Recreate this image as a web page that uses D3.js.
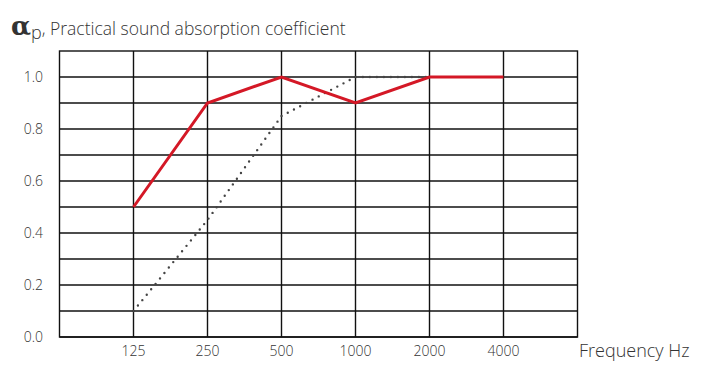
<!DOCTYPE html>
<html>
<head>
<meta charset="utf-8">
<script src="https://cdn.jsdelivr.net/npm/d3@7"></script>
<style>
  body { margin: 0; background: #fff; }
  svg text { font-family: "Open Sans", "Noto Sans", sans-serif; font-weight: 300; fill: #333; }
</style>
</head>
<body>
<svg id="chart" width="705" height="375"></svg>
<script>
const frequencies = ["125", "250", "500", "1000", "2000", "4000"];
const yTicks = [0, 0.2, 0.4, 0.6, 0.8, 1.0];
const solidValues = [0.5, 0.9, 1.0, 0.9, 1.0, 1.0];
const dottedValues = [0.1, 0.45, 0.85, 1.0, 1.0];

const svg = d3.select("#chart");
const plotLeft = 59.5, plotRight = 577.5, plotTop = 51, plotBottom = 337;

const x = d3.scalePoint().domain(frequencies).range([plotLeft, plotRight]).padding(1);
const y = d3.scaleLinear().domain([0, 1.1]).range([plotBottom, plotTop]);

// grid
const grid = svg.append("g").attr("stroke", "#111").attr("stroke-width", 1.4);
grid.selectAll("line.h")
  .data(d3.range(0, 11).map((i) => i / 10))
  .join("line")
  .attr("class", "h")
  .attr("x1", plotLeft).attr("x2", plotRight)
  .attr("y1", (d) => y(d)).attr("y2", (d) => y(d));
grid.selectAll("line.v")
  .data(frequencies)
  .join("line")
  .attr("class", "v")
  .attr("x1", (d) => x(d)).attr("x2", (d) => x(d))
  .attr("y1", plotTop).attr("y2", plotBottom);
grid.append("rect")
  .attr("x", plotLeft).attr("y", plotTop)
  .attr("width", plotRight - plotLeft).attr("height", plotBottom - plotTop)
  .attr("fill", "none");

// axis labels
svg.append("g").selectAll("text")
  .data(yTicks)
  .join("text")
  .attr("x", 43).attr("y", (d) => y(d) + 5)
  .attr("text-anchor", "end")
  .attr("font-size", 14)
  .text((d) => d.toFixed(1));

svg.append("g").selectAll("text")
  .data(frequencies)
  .join("text")
  .attr("x", (d) => x(d)).attr("y", 356)
  .attr("text-anchor", "middle")
  .attr("font-size", 14)
  .text((d) => d);

svg.append("text")
  .attr("x", 579).attr("y", 357)
  .attr("font-size", 18)
  .text("Frequency Hz");

const title = svg.append("text").attr("x", 11).attr("y", 35);
title.append("tspan").attr("font-size", 26).attr("font-weight", 700).attr("font-family", "DejaVu Serif, serif").text("α");
title.append("tspan").attr("font-size", 18).attr("dy", 4).text("p");
title.append("tspan").attr("font-size", 17.5).attr("dy", -4).text(", Practical sound absorption coefficient");

// series
const line = d3.line().x((d, i) => x(frequencies[i])).y((d) => y(d));

svg.append("path")
  .datum(dottedValues)
  .attr("d", line)
  .attr("fill", "none")
  .attr("stroke", "#444")
  .attr("stroke-width", 2.4)
  .attr("stroke-linecap", "round")
  .attr("stroke-dasharray", "0 7");

svg.append("path")
  .datum(solidValues)
  .attr("d", line)
  .attr("fill", "none")
  .attr("stroke", "#d41826")
  .attr("stroke-width", 3)
  .attr("stroke-linejoin", "miter");
</script>
</body>
</html>
